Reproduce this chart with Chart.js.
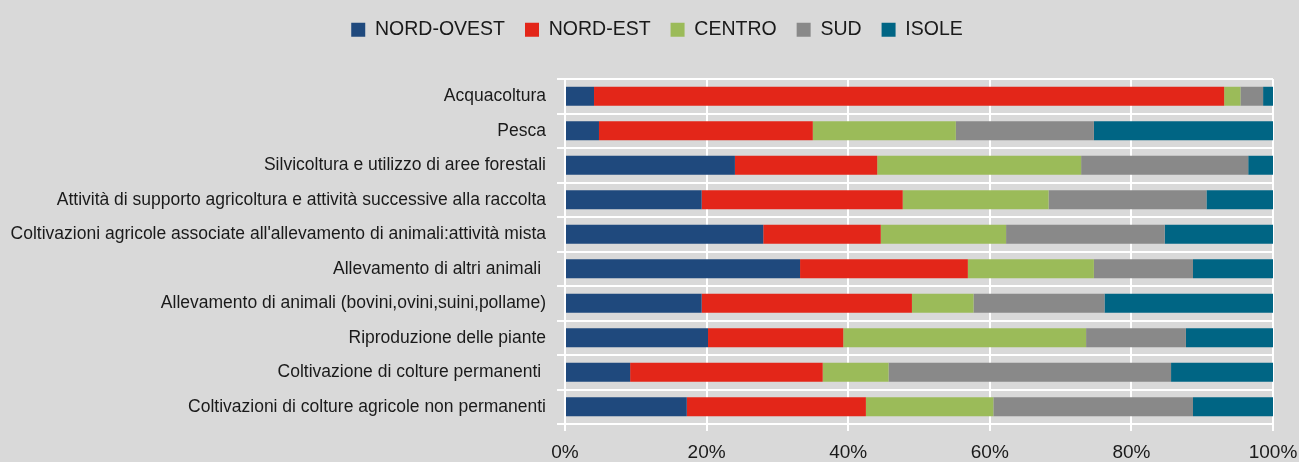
<!DOCTYPE html>
<html>
<head>
<meta charset="utf-8">
<script src="https://cdn.jsdelivr.net/npm/chart.js@4"></script>
<style>
  html, body { margin: 0; padding: 0; background: #d9d9d9; }
  #wrap { width: 1299px; height: 462px; position: relative; }
</style>
</head>
<body>
<div id="wrap"><canvas id="chart" width="1299" height="462"></canvas></div>
<script>
const categories = [
  "Acquacoltura",
  "Pesca",
  "Silvicoltura e utilizzo di aree forestali",
  "Attività di supporto agricoltura e attività successive alla raccolta",
  "Coltivazioni agricole associate all'allevamento di animali:attività mista",
  "Allevamento di altri animali ",
  "Allevamento di animali (bovini,ovini,suini,pollame)",
  "Riproduzione delle piante",
  "Coltivazione di colture permanenti ",
  "Coltivazioni di colture agricole non permanenti"
];
const nordOvest = [4.1, 4.8, 24.0, 19.3, 28.0, 33.2, 19.3, 20.2, 9.2, 17.2];
const nordEst   = [89.0, 30.2, 20.1, 28.4, 16.6, 23.7, 29.7, 19.1, 27.2, 25.3];
const centro    = [2.3, 20.2, 28.8, 20.6, 17.7, 17.8, 8.7, 34.3, 9.3, 18.0];
const sud       = [3.2, 19.5, 23.6, 22.3, 22.4, 14.0, 18.5, 14.1, 39.9, 28.2];
const isole     = [1.4, 25.3, 3.5, 9.4, 15.3, 11.3, 23.8, 12.3, 14.4, 11.3];
const xTicks = [0, 20, 40, 60, 80, 100];

const FONT = "'Liberation Sans', Arial, sans-serif";
const TEXT = "#1a1a1a";

const ds = (label, data, color) => ({
  label, data,
  backgroundColor: color,
  borderWidth: 0,
  barPercentage: 0.55,
  categoryPercentage: 1.0,
});

// legend takes the whole band above the plot
const legendBand = {
  id: "legendBand",
  beforeLayout(chart) {
    const lg = chart.legend;
    if (lg && !lg._banded) {
      const fit = lg.fit;
      lg.fit = function () { fit.call(this); this.height = 79; };
      lg._banded = true;
    }
  },
};

new Chart(document.getElementById("chart").getContext("2d"), {
  type: "bar",
  data: {
    labels: categories,
    datasets: [
      ds("NORD-OVEST", nordOvest, "#1f497d"),
      ds("NORD-EST", nordEst, "#e32619"),
      ds("CENTRO", centro, "#9bbb59"),
      ds("SUD", sud, "#898989"),
      ds("ISOLE", isole, "#006584"),
    ],
  },
  plugins: [legendBand],
  options: {
    indexAxis: "y",
    responsive: false,
    animation: false,
    layout: { padding: { top: 0, right: -15, bottom: 0, left: 0 } },
    scales: {
      x: {
        stacked: true,
        min: 0,
        max: 100,
        afterBuildTicks: (axis) => { axis.ticks = xTicks.map(v => ({ value: v })); },
        afterFit: (axis) => {
          axis.height = 38;
          axis.paddingRight = 26;
          axis.paddingLeft = 0;
        },
        ticks: {
          color: TEXT,
          font: { family: FONT, size: 19, lineHeight: 1 },
          padding: 12,
          maxRotation: 0,
          callback: (v) => v + "%",
        },
        grid: { color: "#ffffff", lineWidth: 2, tickLength: 7, tickColor: "#ffffff" },
        border: { color: "#ffffff", width: 2 },
      },
      y: {
        stacked: true,
        afterFit: (axis) => {
          axis.width = 565;
          axis.paddingTop = 0;
          axis.paddingBottom = 0;
        },
        ticks: {
          color: TEXT,
          font: { family: FONT, size: 17.5 },
          padding: 11,
          autoSkip: false,
        },
        grid: { color: "#ffffff", lineWidth: 2, tickLength: 8, tickColor: "#ffffff", offset: true },
        border: { color: "#ffffff", width: 2 },
      },
    },
    plugins: {
      legend: {
        position: "top",
        labels: {
          color: TEXT,
          font: { family: FONT, size: 19.5 },
          boxWidth: 14,
          boxHeight: 14,
          padding: 20,
        },
      },
      tooltip: { enabled: false },
    },
  },
});
</script>
</body>
</html>
